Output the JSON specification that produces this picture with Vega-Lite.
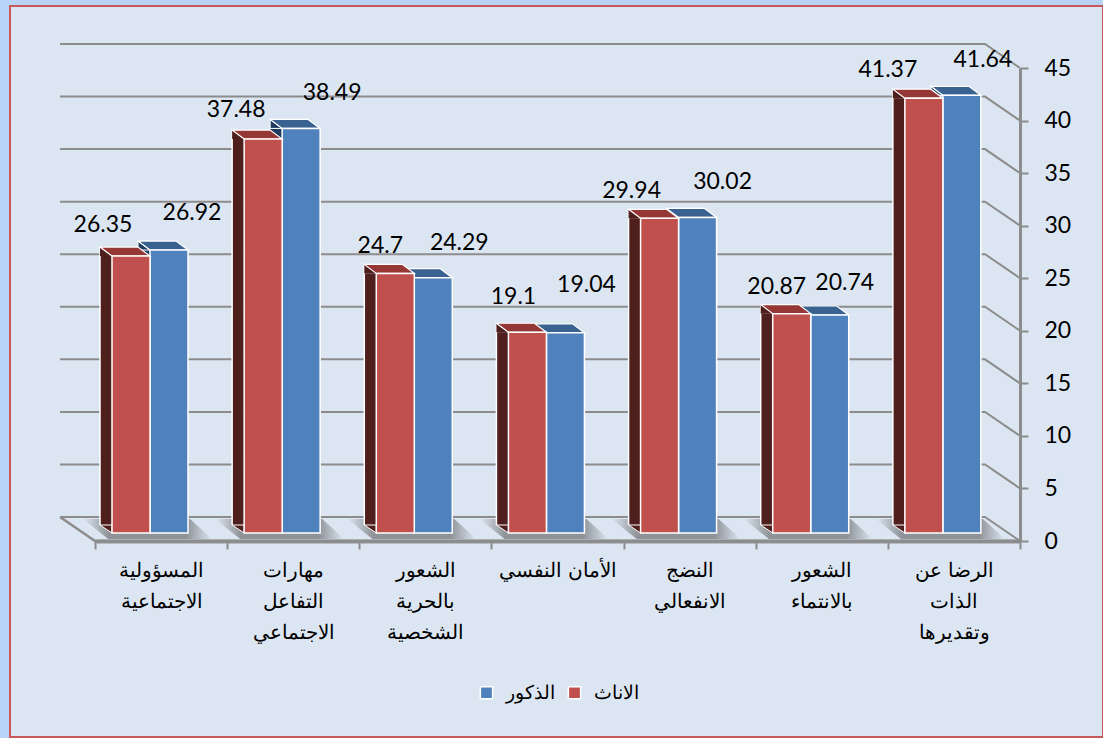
{
"$schema":"https://vega.github.io/schema/vega-lite/v6.json",
"width":1093,"height":731,
"autosize":{"type":"none"},
"padding":{"left":10,"top":6,"right":0,"bottom":1},
"background":"#B7D3F5",
"view":{"fill":"#DCE6F2","stroke":"#C9585A","strokeWidth":2},
"datasets":{
"bars":[
{"cat":"المسؤولية الاجتماعية","sex":"الاناث","v":26.35},{"cat":"المسؤولية الاجتماعية","sex":"الذكور","v":26.92},
{"cat":"مهارات التفاعل الاجتماعي","sex":"الاناث","v":37.48},{"cat":"مهارات التفاعل الاجتماعي","sex":"الذكور","v":38.49},
{"cat":"الشعور بالحرية الشخصية","sex":"الاناث","v":24.7},{"cat":"الشعور بالحرية الشخصية","sex":"الذكور","v":24.29},
{"cat":"الأمان النفسي","sex":"الاناث","v":19.1},{"cat":"الأمان النفسي","sex":"الذكور","v":19.04},
{"cat":"النضج الانفعالي","sex":"الاناث","v":29.94},{"cat":"النضج الانفعالي","sex":"الذكور","v":30.02},
{"cat":"الشعور بالانتماء","sex":"الاناث","v":20.87},{"cat":"الشعور بالانتماء","sex":"الذكور","v":20.74},
{"cat":"الرضا عن الذات وتقديرها","sex":"الاناث","v":41.37},{"cat":"الرضا عن الذات وتقديرها","sex":"الذكور","v":41.64}
],
"ticks":[{"t":0},{"t":5},{"t":10},{"t":15},{"t":20},{"t":25},{"t":30},{"t":35},{"t":40},{"t":45}]
},
"data":{"name":"bars"},
"layer":[
{"data":{"name":"ticks"},
 "mark":{"type":"point","shape":"M66.1,0L31.1,-24L-893.9,-24","size":4,"filled":false,"stroke":"#8C8C8C","strokeWidth":2,"opacity":1},
 "encoding":{
  "x":{"datum":"الرضا عن الذات وتقديرها","type":"nominal","title":null},
  "y":{"field":"t","type":"quantitative","title":null}}},
{"data":{"name":"ticks"},"transform":[{"filter":"datum.t==0"}],
 "mark":{"type":"point","shape":"M-893.9,-24L-858.9,0L66.1,0","size":4,"filled":false,"stroke":"#8C8C8C","strokeWidth":2.5,"opacity":1},
 "encoding":{
  "x":{"datum":"الرضا عن الذات وتقديرها","type":"nominal","title":null},
  "y":{"field":"t","type":"quantitative","title":null}}},
{"encoding":{
  "x":{"field":"cat","type":"nominal","sort":null,"title":null,
   "scale":{"domain":["المسؤولية الاجتماعية","مهارات التفاعل الاجتماعي","الشعور بالحرية الشخصية","الأمان النفسي","النضج الانفعالي","الشعور بالانتماء","الرضا عن الذات وتقديرها"],"range":[85,1010],"paddingInner":0,"paddingOuter":0},
   "axis":{"orient":"bottom","offset":-196,"tickBand":"extent","labelAngle":0,"labelAlign":"center","labelFont":"Liberation Sans","labelFontSize":20,"labelColor":"#000000","labelPadding":11,"labelLimit":0,"labelOverlap":false,"labelLineHeight":31,"labelBaseline":"top","tickSize":8,"tickWidth":2,"tickColor":"#8C8C8C","domainColor":"#8E9193","domainWidth":4,
    "labelExpr":"datum.label=='الأمان النفسي'?datum.label:datum.label=='الرضا عن الذات وتقديرها'?['الرضا عن','الذات','وتقديرها']:split(datum.label,' ')"}},
  "y":{"field":"v","type":"quantitative","title":null,
   "scale":{"domain":[0,45],"range":[535,62],"nice":false,"zero":true},
   "axis":{"orient":"right","offset":-83,"values":[0,5,10,15,20,25,30,35,40,45],"grid":false,"labelFont":"Lato","labelFontSize":23,"labelColor":"#000000","labelPadding":16,"labelBaseline":"middle","tickSize":8,"tickWidth":2,"tickColor":"#8C8C8C","domainColor":"#8C8C8C","domainWidth":3}}
 },
 "layer":[
  {"transform":[{"filter":"datum.sex=='الاناث'"}],
   "mark":{"type":"point","shape":"M-78,-22L29,-22L51,-2L-53,-2Z","size":4,"filled":true,"opacity":1,"strokeWidth":0,
    "fill":{"gradient":"linear","x1":0,"y1":0,"x2":1,"y2":0,"stops":[{"offset":0,"color":"#DCE6F2"},{"offset":0.2,"color":"#8F9398"},{"offset":0.8,"color":"#8F9398"},{"offset":1,"color":"#DCE6F2"}]}},
   "encoding":{"y":{"datum":0}}}
 ]},
{"resolve":{"scale":{"xOffset":"independent"}},
 "encoding":{
  "x":{"field":"cat","type":"nominal","title":null},
  "y":{"field":"v","type":"quantitative","title":null}
 },
 "layer":[
  {"transform":[{"filter":"datum.sex=='الذكور'"}],
   "mark":{"type":"bar","width":12,"fill":"#1F3B5F","yOffset":-8,"y2Offset":-16},
   "encoding":{"y2":{"datum":0},"xOffset":{"field":"sex","type":"nominal","scale":{"domain":["الاناث","الذكور"],"range":[-8,68]}}}},
  {"transform":[{"filter":"datum.sex=='الذكور'"}],
   "mark":{"type":"point","shape":"M-31,-17L-19,-8L-31,-8Z","size":4,"filled":true,"fill":"#1F3B5F","opacity":1,"stroke":"#FFFFFF","strokeWidth":1},
   "encoding":{"xOffset":{"field":"sex","type":"nominal","scale":{"domain":["الاناث","الذكور"],"range":[17,93]}}}},
  {"transform":[{"filter":"datum.sex=='الذكور'"}],
   "mark":{"type":"point","shape":"M-19,-8L-31,-17L7,-17L19,-8Z","size":4,"filled":true,"fill":"#3A6291","opacity":1,"stroke":"#FFFFFF","strokeWidth":1.2},
   "encoding":{"xOffset":{"field":"sex","type":"nominal","scale":{"domain":["الاناث","الذكور"],"range":[17,93]}}}},
  {"transform":[{"filter":"datum.sex=='الذكور'"}],
   "mark":{"type":"bar","stroke":"#FFFFFF","strokeWidth":1.5,"yOffset":-8,"y2Offset":-8},
   "encoding":{"y2":{"datum":0},
    "xOffset":{"field":"sex","type":"nominal","scale":{"domain":["الاناث","الذكور"],"range":[17,93]}},
    "color":{"field":"sex","type":"nominal","title":null,"scale":{"domain":["الذكور","الاناث"],"range":["#4F81BD","#C0504D"]},
     "legend":{"orient":"none","legendX":467,"legendY":677,"direction":"horizontal","title":null,"symbolType":"square","symbolSize":150,"symbolStrokeColor":"#FFFFFF","symbolStrokeWidth":1.5,"symbolOpacity":1,"labelFont":"Liberation Sans","labelFontSize":19,"labelColor":"#000000","columnPadding":10,"labelOffset":10}}}},
  {"transform":[{"filter":"datum.sex=='الاناث'"}],
   "mark":{"type":"bar","width":12,"fill":"#4F1F1E","yOffset":-8,"y2Offset":-16},
   "encoding":{"y2":{"datum":0},"xOffset":{"field":"sex","type":"nominal","scale":{"domain":["الاناث","الذكور"],"range":[-8,68]}}}},
  {"transform":[{"filter":"datum.sex=='الاناث'"}],
   "mark":{"type":"bar","width":1.5,"fill":"#FFFFFF","yOffset":-17,"y2Offset":-16},
   "encoding":{"y2":{"datum":0},"xOffset":{"field":"sex","type":"nominal","scale":{"domain":["الاناث","الذكور"],"range":[-14,62]}}}},
  {"transform":[{"filter":"datum.sex=='الاناث'"}],
   "mark":{"type":"point","shape":"M-31,-17L-19,-8L-31,-8Z","size":4,"filled":true,"fill":"#4F1F1E","opacity":1,"strokeWidth":0},
   "encoding":{"xOffset":{"field":"sex","type":"nominal","scale":{"domain":["الاناث","الذكور"],"range":[17,93]}}}},
  {"transform":[{"filter":"datum.sex=='الاناث'"}],
   "mark":{"type":"point","shape":"M-31,-16L-19,-8L-19,-16Z","size":4,"filled":true,"fill":"#4F1F1E","opacity":1,"stroke":"#FFFFFF","strokeWidth":1},
   "encoding":{"y":{"datum":0},"xOffset":{"field":"sex","type":"nominal","scale":{"domain":["الاناث","الذكور"],"range":[17,93]}}}},
  {"transform":[{"filter":"datum.sex=='الاناث'"}],
   "mark":{"type":"point","shape":"M-19,-8L-31,-17L7,-17L19,-8Z","size":4,"filled":true,"fill":"#953735","opacity":1,"stroke":"#FFFFFF","strokeWidth":1.2},
   "encoding":{"xOffset":{"field":"sex","type":"nominal","scale":{"domain":["الاناث","الذكور"],"range":[17,93]}}}},
  {"transform":[{"filter":"datum.sex=='الاناث'"}],
   "mark":{"type":"bar","stroke":"#FFFFFF","strokeWidth":1.5,"yOffset":-8,"y2Offset":-8},
   "encoding":{"y2":{"datum":0},
    "xOffset":{"field":"sex","type":"nominal","scale":{"domain":["الاناث","الذكور"],"range":[17,93]}},
    "color":{"field":"sex","type":"nominal","title":null,"scale":{"domain":["الذكور","الاناث"],"range":["#4F81BD","#C0504D"]}}}},
  {"mark":{"type":"text","font":"Lato","fontSize":23,"fill":"#000000","baseline":"middle","align":"center",
    "dx":{"expr":"{'26.35':-28,'26.92':23,'37.48':-27,'38.49':31,'24.7':-15,'24.29':26,'19.1':-14,'19.04':21,'29.94':-28,'30.02':25,'20.87':-15,'20.74':15,'41.37':-36,'41.64':21}[datum.v]"},
    "dy":{"expr":"{'26.35':-39,'26.92':-45,'37.48':-37,'38.49':-43,'24.7':-35,'24.29':-43,'19.1':-43,'19.04':-56,'29.94':-35,'30.02':-43,'20.87':-35,'20.74':-40,'41.37':-36,'41.64':-43}[datum.v]"}},
   "encoding":{"text":{"field":"v","type":"nominal"},"xOffset":{"field":"sex","type":"nominal","scale":{"domain":["الاناث","الذكور"],"range":[17,93]}}}}
 ]}
]
}
